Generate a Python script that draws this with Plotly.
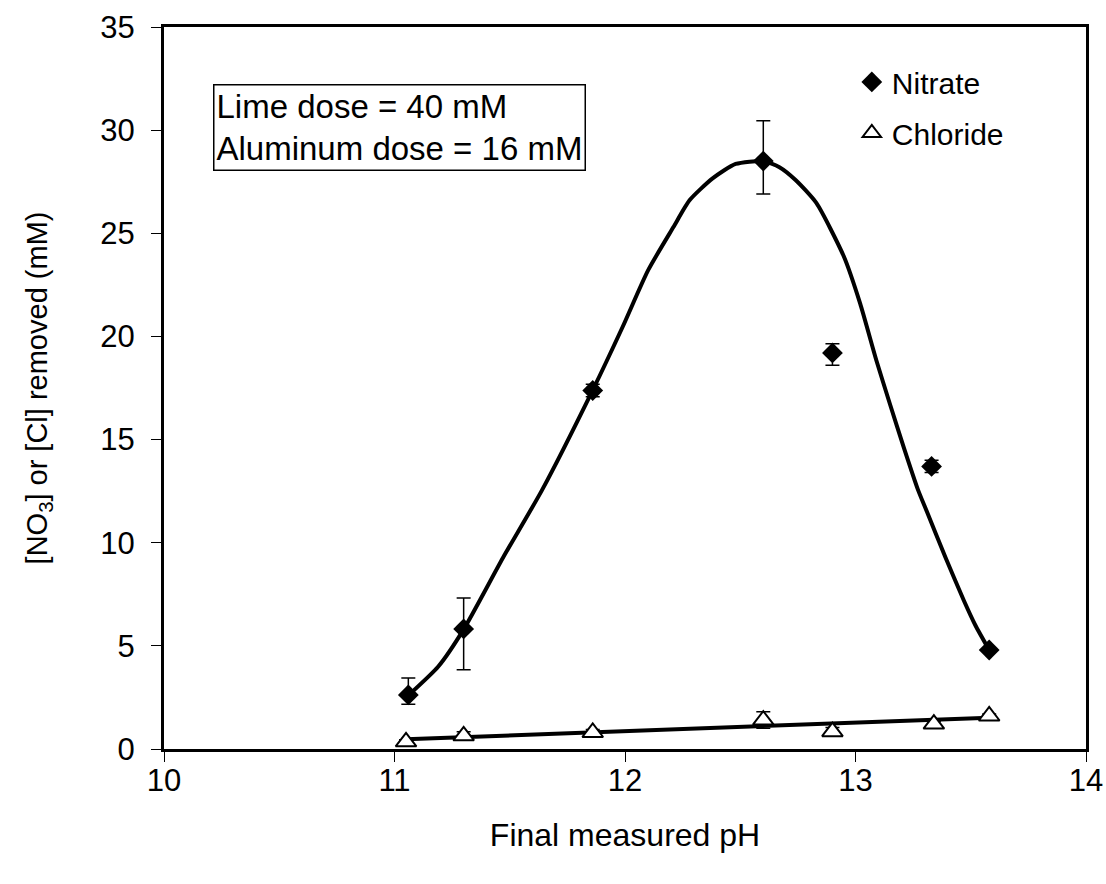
import plotly.graph_objects as go

# Nitrate data
nit_ph = [11.06, 11.30, 11.86, 12.60, 12.90, 13.33, 13.58]
nit_val = [2.62, 5.82, 17.38, 28.5, 19.2, 13.7, 4.8]
nit_err_plus = [0.82, 1.5, 0.3, 1.95, 0.45, 0.3, 0.0]
nit_err_minus = [0.45, 1.98, 0.3, 1.6, 0.6, 0.3, 0.0]

# Chloride data
chl_ph = [11.05, 11.30, 11.86, 12.60, 12.90, 13.34, 13.58]
chl_val = [0.35, 0.64, 0.80, 1.40, 0.84, 1.21, 1.60]
chl_err = [0.1, 0.2, 0.15, 0.4, 0.2, 0.12, 0.1]

# Smoothed nitrate curve
curve_ph = [11.06, 11.19, 11.30, 11.47, 11.64, 11.86, 11.99, 12.10, 12.21, 12.28,
            12.38, 12.48, 12.60, 12.67, 12.74, 12.83, 12.95, 13.02, 13.09, 13.15,
            13.21, 13.27, 13.31, 13.39, 13.47, 13.52, 13.58]
curve_val = [2.6, 4.0, 5.8, 9.26, 12.55, 17.4, 20.47, 23.2, 25.3, 26.6,
             27.66, 28.36, 28.5, 28.2, 27.58, 26.47, 23.86, 21.6, 18.86, 16.7,
             14.6, 12.6, 11.5, 9.3, 7.2, 6.0, 4.8]

# Chloride linear trend line
trend_ph = [11.05, 13.58]
trend_val = [0.47, 1.52]

x_ticks = [10, 11, 12, 13, 14]
y_ticks = [0, 5, 10, 15, 20, 25, 30, 35]

FONT = "Arial, 'Liberation Sans', sans-serif"

fig = go.Figure()

fig.add_trace(go.Scatter(x=curve_ph, y=curve_val, mode="lines",
                         line=dict(color="black", width=4, shape="spline", smoothing=0.6),
                         showlegend=False, hoverinfo="skip"))
fig.add_trace(go.Scatter(x=trend_ph, y=trend_val, mode="lines",
                         line=dict(color="black", width=4),
                         showlegend=False, hoverinfo="skip"))

fig.add_trace(go.Scatter(x=nit_ph, y=nit_val, mode="markers", name="Nitrate",
                         legendgroup="a",
                         marker=dict(symbol="diamond", size=16, color="black"),
                         error_y=dict(type="data", array=nit_err_plus, arrayminus=nit_err_minus,
                                      symmetric=False, color="black", thickness=1.5, width=7)))
fig.add_trace(go.Scatter(x=chl_ph, y=chl_val, mode="markers", name="Chloride",
                         legendgroup="b",
                         marker=dict(symbol="triangle-up", size=18, color="white",
                                     line=dict(color="black", width=2)),
                         error_y=dict(type="data", array=chl_err, color="black",
                                      thickness=1.5, width=7)))

fig.add_annotation(xref="paper", yref="paper", x=0.053, y=0.921, xanchor="left", yanchor="top",
                   text="Lime dose = 40 mM<br>Aluminum dose = 16 mM", align="left",
                   showarrow=False, font=dict(family=FONT, size=33, color="black"),
                   bordercolor="black", borderwidth=1.5, borderpad=2, bgcolor="white")

fig.update_layout(
    width=1106, height=884,
    margin=dict(l=164, r=20, t=27, b=135, autoexpand=False),
    paper_bgcolor="white", plot_bgcolor="white",
    font=dict(family=FONT, size=30, color="black"),
    legend=dict(x=0.746, y=0.96, xanchor="left", yanchor="top",
                font=dict(family=FONT, size=30, color="black"),
                bgcolor="rgba(0,0,0,0)", tracegroupgap=9, itemwidth=30),
    xaxis=dict(range=[10, 14], tickvals=x_ticks, ticks="outside", ticklen=10,
               tickwidth=1, tickcolor="black", showgrid=False, zeroline=False,
               showline=True, linecolor="black", linewidth=3, mirror=True,
               tickfont=dict(size=31), ticklabelstandoff=-8, automargin=False,
               title=dict(text="Final measured pH", font=dict(size=32), standoff=27)),
    yaxis=dict(range=[0, 35], tickvals=y_ticks, ticks="outside", ticklen=10,
               tickwidth=1, tickcolor="black", showgrid=False, zeroline=False,
               showline=True, linecolor="black", linewidth=3, mirror=True,
               tickfont=dict(size=31), ticklabelstandoff=10, automargin=False,
               title=dict(text="[NO<sub>3</sub>] or [Cl] removed (mM)", font=dict(size=29),
                          standoff=45)),
)

fig.write_html("out.html")
